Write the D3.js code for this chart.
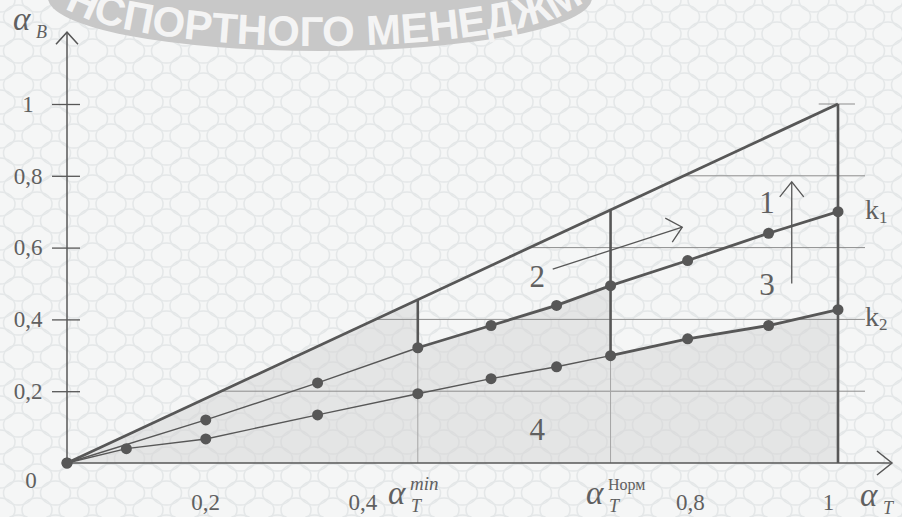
<!DOCTYPE html>
<html>
<head>
<meta charset="utf-8">
<script src="https://cdn.jsdelivr.net/npm/d3@7"></script>
<style>
  body { margin: 0; background: #f4f5f5; }
  svg { display: block; }
  text { font-family: "Liberation Serif", serif; fill: #606060; }
</style>
</head>
<body>
<svg width="902" height="517"></svg>
<script>
// values (alpha_T -> alpha_B)
const k1T = [0, 0.18, 0.325, 0.455, 0.55, 0.635, 0.705, 0.805, 0.91, 1];
const k1B = [0, 0.12, 0.223, 0.321, 0.383, 0.439, 0.494, 0.564, 0.64, 0.70];
const k2T = [0, 0.077, 0.18, 0.325, 0.455, 0.55, 0.635, 0.705, 0.805, 0.91, 1];
const k2B = [0, 0.04, 0.067, 0.134, 0.193, 0.235, 0.268, 0.299, 0.346, 0.383, 0.427];
const diagT = [0, 1];
const diagB = [0, 1];
const alphaMin = 0.455;
const alphaNorm = 0.705;
const yTicks = [0.2, 0.4, 0.6, 0.8, 1];
const yTickLabels = ["0,2", "0,4", "0,6", "0,8", "1"];
const xTicks = [0.2, 0.4, 0.8, 1];
const xTickLabels = ["0,2", "0,4", "0,8", "1"];
const gridLevels = [0.2, 0.4, 0.6, 0.8];

const svg = d3.select("svg");
const x = d3.scaleLinear().domain([0, 1]).range([67, 838]);
const y = d3.scaleLinear().domain([0, 1]).range([463, 104]);

const ink = "#575757";
const k1 = k1T.map((t, i) => [t, k1B[i]]);
const k2 = k2T.map((t, i) => [t, k2B[i]]);
const diag = diagT.map((t, i) => [t, diagB[i]]);
const line = d3.line().x(d => x(d[0])).y(d => y(d[1]));
const at = (pts, t) => pts.find(p => p[0] === t)[1];

// background lattice
const defs = svg.append("defs");
const pat = defs.append("pattern")
  .attr("id", "bg").attr("patternUnits", "userSpaceOnUse")
  .attr("width", 37).attr("height", 34);
pat.append("rect").attr("width", 37).attr("height", 34).attr("fill", "#f5f6f6");
[[18.5, 17], [0, 0], [37, 0], [0, 34], [37, 34]].forEach(([cx, cy]) => {
  pat.append("ellipse").attr("cx", cx).attr("cy", cy)
    .attr("rx", 15).attr("ry", 12)
    .attr("fill", "none").attr("stroke", "#e4e7e8").attr("stroke-width", 1.5);
});
svg.append("rect").attr("width", 902).attr("height", 517).attr("fill", "url(#bg)");

// watermark band
const wm = svg.append("g");
wm.append("path")
  .attr("d", "M48,-2 A272,53 0 0 0 592,-2 L592,-80 L48,-80 Z")
  .attr("fill", "#c8c8c8");
const wmPath = defs.append("path").attr("id", "wmArc")
  .attr("d", "M56,-6 A264,52 0 0 0 584,-6");
const wmNode = wmPath.node();
let lo = 0, hi = wmNode.getTotalLength();
for (let i = 0; i < 40; i++) {
  const mid = (lo + hi) / 2;
  if (wmNode.getPointAtLength(mid).x < 92) lo = mid; else hi = mid;
}
const probe = svg.append("text").style("font", "bold 42px 'Liberation Sans'").text("Н");
const nWidth = probe.node().getComputedTextLength();
probe.remove();
wm.append("text")
  .style("font-family", "Liberation Sans").style("font-weight", "bold")
  .style("font-size", "42px").style("fill", "#f4f4f4")
  .append("textPath").attr("href", "#wmArc")
  .attr("startOffset", lo - nWidth)
  .text("НСПОРТНОГО МЕНЕДЖМЕНТА");

// shaded region
const shade = [[0, 0], [alphaMin, alphaMin], [alphaMin, at(k1, alphaMin)],
  [alphaNorm, at(k1, alphaNorm)], [alphaNorm, at(k2, alphaNorm)],
  [1, at(k2, 1)], [1, 0]];
svg.append("path")
  .attr("d", line(shade) + "Z")
  .attr("fill", "#d4d4d4").attr("fill-opacity", 0.5);

// horizontal guide lines
svg.selectAll(".grid").data(gridLevels).enter().append("line")
  .attr("class", "grid")
  .attr("x1", d => x(d)).attr("x2", x(1.035))
  .attr("y1", d => y(d)).attr("y2", d => y(d))
  .attr("stroke", "#8d8d8d").attr("stroke-width", 1);
svg.append("line")
  .attr("x1", x(0.975)).attr("x2", x(1.022))
  .attr("y1", y(1)).attr("y2", y(1))
  .attr("stroke", "#8d8d8d").attr("stroke-width", 1);

// light drop lines
[[alphaMin, at(k1, alphaMin)], [alphaNorm, at(k2, alphaNorm)]].forEach(([t, b]) => {
  svg.append("line")
    .attr("x1", x(t)).attr("x2", x(t)).attr("y1", y(0)).attr("y2", y(b))
    .attr("stroke", "#a5a5a5").attr("stroke-width", 1);
});

// thin and thick parts of k lines
const k1Thin = k1.filter(p => p[0] <= alphaMin), k1Thick = k1.filter(p => p[0] >= alphaMin);
const k2Thin = k2.filter(p => p[0] <= alphaNorm), k2Thick = k2.filter(p => p[0] >= alphaNorm);
[k1Thin, k2Thin].forEach(pts => svg.append("path").attr("d", line(pts))
  .attr("fill", "none").attr("stroke", ink).attr("stroke-width", 1.4));
[k1Thick, k2Thick, diag].forEach(pts => svg.append("path").attr("d", line(pts))
  .attr("fill", "none").attr("stroke", ink).attr("stroke-width", 2.8));

// vertical bars
[[alphaMin, at(k1, alphaMin), alphaMin], [alphaNorm, at(k2, alphaNorm), alphaNorm], [1, 0, 1]]
  .forEach(([t, b0, b1]) => {
    svg.append("line")
      .attr("x1", x(t)).attr("x2", x(t)).attr("y1", y(b0)).attr("y2", y(b1))
      .attr("stroke", ink).attr("stroke-width", 2.6);
  });

// dots
svg.selectAll(".dot").data(k1.concat(k2)).enter().append("circle")
  .attr("class", "dot")
  .attr("cx", d => x(d[0])).attr("cy", d => y(d[1]))
  .attr("r", 5.5).attr("fill", ink);

// axes
const yAxis = svg.append("g").attr("transform", `translate(${x(0)},0)`)
  .call(d3.axisLeft(y).tickValues(yTicks)
    .tickFormat((d, i) => yTickLabels[i]).tickSize(15).tickPadding(8));
yAxis.select(".domain").remove();
yAxis.selectAll("line").attr("x1", 13).attr("stroke", ink).attr("stroke-width", 1.3);
yAxis.selectAll("text")
  .attr("text-anchor", "middle").attr("x", -39)
  .style("font-family", "Liberation Serif").style("font-size", "23px").attr("fill", "#606060");

const xAxis = svg.append("g").attr("transform", `translate(0,${y(0)})`)
  .call(d3.axisBottom(x).tickValues(xTicks)
    .tickFormat((d, i) => xTickLabels[i]).tickSize(0).tickPadding(31));
xAxis.select(".domain").remove();
const xShift = { 0.2: -16, 0.4: -13, 0.8: 6, 1: -10 };
xAxis.selectAll("text")
  .attr("dx", d => xShift[d])
  .style("font-family", "Liberation Serif").style("font-size", "23px").attr("fill", "#606060");

const axisG = svg.append("g").attr("fill", "none").attr("stroke", ink).attr("stroke-width", 1.5);
axisG.append("line").attr("x1", x(0)).attr("x2", x(0)).attr("y1", y(0)).attr("y2", y(1.2));
axisG.append("polyline")
  .attr("points", `${x(0) - 11},${y(1.2) + 12} ${x(0)},${y(1.2)} ${x(0) + 11},${y(1.2) + 12}`);
axisG.append("line").attr("x1", x(0)).attr("x2", x(1.07)).attr("y1", y(0)).attr("y2", y(0));
axisG.append("polyline")
  .attr("points", `${x(1.07) - 15},${y(0) - 12} ${x(1.07)},${y(0)} ${x(1.07) - 15},${y(0) + 12}`);

// annotation arrows
const arrowG = svg.append("g").attr("fill", "none").attr("stroke", ink).attr("stroke-width", 1.3);
arrowG.append("line").attr("x1", x(0.94)).attr("x2", x(0.94)).attr("y1", y(0.50)).attr("y2", y(0.783));
arrowG.append("polyline")
  .attr("points", `${x(0.94) - 12},${y(0.783) + 15} ${x(0.94)},${y(0.783)} ${x(0.94) + 12},${y(0.783) + 15}`);
arrowG.append("line").attr("x1", x(0.63)).attr("y1", y(0.54)).attr("x2", x(0.798)).attr("y2", y(0.657));
arrowG.append("polyline")
  .attr("points", `${x(0.798) - 17},${y(0.657) - 9} ${x(0.798)},${y(0.657)} ${x(0.798) - 10},${y(0.657) + 15}`);

// region numbers
[["1", 0.908, 0.696], ["3", 0.908, 0.468], ["2", 0.61, 0.49], ["4", 0.61, 0.064]].forEach(([s, t, b]) => {
  svg.append("text").attr("x", x(t)).attr("y", y(b))
    .attr("text-anchor", "middle").style("font-size", "31px").text(s);
});

// k labels
[["1", 0.68], ["2", 0.382]].forEach(([s, b]) => {
  const tx = svg.append("text").attr("x", x(1.035)).attr("y", y(b)).style("font-size", "28px");
  tx.append("tspan").text("k");
  tx.append("tspan").attr("dy", 4).style("font-size", "17px").text(s);
});

// "0" at origin
svg.append("text").attr("x", 31).attr("y", 488).attr("text-anchor", "middle")
  .style("font-size", "23px").text("0");

// alpha labels
function alphaLabel(px, py, sub, sup, supItalic) {
  const g = svg.append("g");
  g.append("text").attr("x", px).attr("y", py)
    .style("font-style", "italic").style("font-size", "33px").text("α");
  g.append("text").attr("x", px + 23).attr("y", py + 8)
    .style("font-style", "italic").style("font-size", "18px").text(sub);
  if (sup) {
    g.append("text").attr("x", px + 22).attr("y", py - 14)
      .style("font-style", supItalic ? "italic" : "normal")
      .style("font-size", supItalic ? "19px" : "16px").text(sup);
  }
}
alphaLabel(13, 30, "B");
alphaLabel(388, 504, "T", "min", true);
alphaLabel(586, 504, "T", "Норм", false);
alphaLabel(860, 506, "T");
</script>
</body>
</html>
